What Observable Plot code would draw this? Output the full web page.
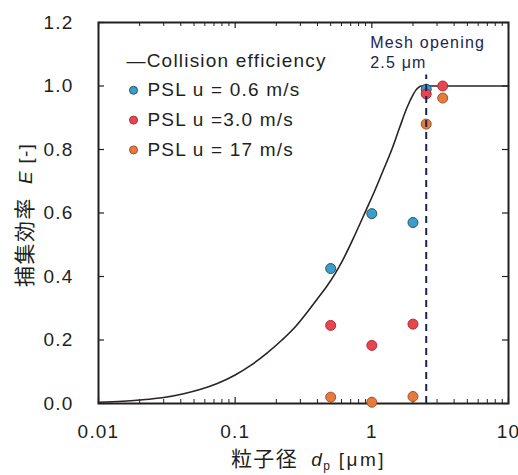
<!DOCTYPE html>
<html>
<head>
<meta charset="utf-8">
<script src="https://cdn.jsdelivr.net/npm/d3@7"></script>
<script src="https://cdn.jsdelivr.net/npm/@observablehq/plot@0.6"></script>
<style>
  body { margin: 0; background: #fff; }
  svg text { letter-spacing: 1.2px; }
</style>
</head>
<body>
<div id="chart"></div>
<script>
// Collision efficiency curve (particle diameter in µm, efficiency E)
const curveD = [0.01, 0.015, 0.02, 0.03, 0.042, 0.056, 0.074, 0.1, 0.13, 0.17, 0.22, 0.28, 0.34, 0.4, 0.47, 0.54, 0.61, 0.75, 0.91, 1.05, 1.2, 1.4, 1.6, 1.8, 2.0, 2.1, 2.2, 2.3, 10];
const curveE = [0.004, 0.007, 0.011, 0.019, 0.031, 0.045, 0.063, 0.09, 0.12, 0.158, 0.2, 0.245, 0.29, 0.33, 0.37, 0.41, 0.45, 0.53, 0.61, 0.67, 0.73, 0.8, 0.87, 0.93, 0.972, 0.987, 0.996, 1.0, 1.0];

// PSL measurements at three face velocities
const dU06 = [0.5, 1, 2, 2.5];
const eU06 = [0.425, 0.598, 0.57, 0.99];
const dU30 = [0.5, 1, 2, 2.5, 3.3];
const eU30 = [0.246, 0.183, 0.25, 0.975, 1.0];
const dU17 = [0.5, 1, 2, 2.5, 3.3];
const eU17 = [0.02, 0.004, 0.022, 0.88, 0.962];

const legendLabels = ["—Collision efficiency", "PSL u = 0.6 m/s", "PSL u =3.0 m/s", "PSL u = 17 m/s"];
const seriesFill = ["#3d9cc9", "#e8464f", "#e47b3d"];
const seriesStroke = ["#1f5670", "#a8303a", "#a0522a"];

const meshOpening = 2.5;
const meshLabel = "Mesh opening\n2.5 μm";
const yTitle = "捕集効率  E [-]";
const xTitle = "粒子径  d p [μm]";

const xMajor = [0.01, 0.1, 1, 10];
const xMinor = [];
for (const p of [0.01, 0.1, 1]) for (let k = 2; k <= 9; k++) xMinor.push(+(k * p).toPrecision(2));
const yTicks = [0, 0.2, 0.4, 0.6, 0.8, 1.0, 1.2];

const W = 518, H = 475;
const mL = 98, mR = 10, mT = 22, mB = 72;
const plotW = W - mL - mR, plotH = H - mT - mB;
const ink = "#231f20";
const navy = "#1c2552";
const fontFamily = "'Liberation Sans', Arial, 'Noto Sans CJK JP', sans-serif";

const curve = curveD.map((d, i) => ({d, e: curveE[i]}));
const series = [
  dU06.map((d, i) => ({d, e: eU06[i]})),
  dU30.map((d, i) => ({d, e: eU30[i]})),
  dU17.map((d, i) => ({d, e: eU17[i]}))
];

const marks = [
  // tick labels
  Plot.axisY({ticks: yTicks, tickSize: 0, tickPadding: 25, tickFormat: d3.format(".1f"), label: null, fontSize: 19, fill: ink}),
  Plot.axisX({ticks: xMajor, tickSize: 0, tickPadding: 21, tickFormat: d => String(d), label: null, fontSize: 19, fill: ink}),
  // inward ticks on all four sides
  Plot.tickY(yTicks, {y: d => d, insetRight: plotW - 6, stroke: ink, strokeWidth: 1.2}),
  Plot.tickY(yTicks, {y: d => d, insetLeft: plotW - 6, stroke: ink, strokeWidth: 1.2}),
  Plot.tickX(xMajor, {x: d => d, insetTop: plotH - 6, stroke: ink, strokeWidth: 1.2}),
  Plot.tickX(xMajor, {x: d => d, insetBottom: plotH - 6, stroke: ink, strokeWidth: 1.2}),
  Plot.tickX(xMinor, {x: d => d, insetTop: plotH - 4, stroke: ink, strokeWidth: 1}),
  Plot.tickX(xMinor, {x: d => d, insetBottom: plotH - 4, stroke: ink, strokeWidth: 1}),
  Plot.frame({stroke: ink, strokeWidth: 2}),
  // collision efficiency curve
  Plot.line(curve, {x: "d", y: "e", stroke: "#2b2222", strokeWidth: 1.6, curve: "monotone-x"}),
];

// measured points
series.forEach((data, i) => {
  marks.push(Plot.dot(data, {x: "d", y: "e", r: 5, fill: seriesFill[i], stroke: seriesStroke[i], strokeWidth: 1}));
});

// mesh opening marker
marks.push(
  Plot.ruleX([meshOpening], {x: d => d, y1: 0, y2: 1.035, stroke: navy, strokeWidth: 2, strokeDasharray: "7,5"}),
  Plot.text([meshLabel], {x: meshOpening, y: 1.2, dx: -56, dy: 11, textAnchor: "start", lineAnchor: "top", lineHeight: 1.25, fontSize: 16, fill: navy})
);

// legend
legendLabels.forEach((label, i) => {
  const dy = 38 + i * 29.8;
  marks.push(Plot.text([label], {frameAnchor: "top-left", dx: i === 0 ? 28 : 49, dy, textAnchor: "start", lineAnchor: "middle", fontSize: 19, fill: ink}));
  if (i > 0) {
    marks.push(Plot.dot([label], {frameAnchor: "top-left", dx: 35, dy, r: 4, fill: seriesFill[i - 1], stroke: seriesStroke[i - 1], strokeWidth: 1}));
  }
});

// axis titles
marks.push(
  Plot.text([yTitle], {frameAnchor: "left", dx: -73, dy: 2, rotate: -90, textAnchor: "middle", lineAnchor: "middle", fontSize: 21, fill: ink}),
  Plot.text([xTitle], {frameAnchor: "bottom", dx: 5, dy: 62, textAnchor: "middle", lineAnchor: "bottom", fontSize: 21, fill: ink})
);

const svg = Plot.plot({
  width: W, height: H,
  marginLeft: mL, marginRight: mR, marginTop: mT, marginBottom: mB,
  style: {fontFamily, fontSize: "19px", color: ink, background: "#fff"},
  x: {type: "log", domain: [0.01, 10]},
  y: {domain: [0, 1.2]},
  marks
});

// locate a text element by its content
function findText(content) {
  return Array.from(svg.querySelectorAll("text")).find(t => t.textContent === content);
}

// mixed styling (italic symbols, subscript) inside the axis titles
function richText(content, parts) {
  const t = findText(content);
  if (!t) return;
  t.textContent = "";
  for (const p of parts) {
    const ts = document.createElementNS("http://www.w3.org/2000/svg", "tspan");
    ts.textContent = p.text;
    if (p.italic) ts.setAttribute("font-style", "italic");
    if (p.size) ts.setAttribute("font-size", p.size);
    if (p.dy) ts.setAttribute("dy", p.dy);
    if (p.ls != null) ts.setAttribute("letter-spacing", p.ls);
    t.appendChild(ts);
  }
}
richText(yTitle, [
  {text: "捕集効率", size: 21, ls: 1.5},
  {text: "  ", size: 19},
  {text: "E", italic: true, size: 19},
  {text: " [-]", size: 19}
]);
richText(xTitle, [
  {text: "粒子径", size: 21, ls: 1.5},
  {text: "  ", size: 19},
  {text: "d", italic: true, size: 19},
  {text: "p", size: 12, dy: 4},
  {text: " [μm]", size: 19, dy: -4, ls: 2.5}
]);

// slightly tighter tracking for the mesh annotation
const mesh = Array.from(svg.querySelectorAll("text")).find(t => t.textContent.startsWith("Mesh opening"));
if (mesh) mesh.setAttribute("letter-spacing", "0.8");

document.getElementById("chart").appendChild(svg);
</script>
</body>
</html>
